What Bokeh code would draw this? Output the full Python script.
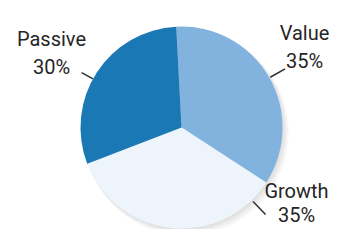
import math
from bokeh.plotting import figure
from bokeh.models import Range1d, ColumnDataSource
from bokeh.core.properties import value
from bokeh.embed import file_html
from bokeh.resources import INLINE

# ---- data ----
categories = ["Value", "Growth", "Passive"]
shares = [35, 35, 30]
colors = ["#82b3df", "#edf4fc", "#1a78b4"]

# ---- layout constants (picture pixel space, y measured from top) ----
W, H = 330, 229
cx, cy_px, R = 181, 127, 101
cy = H - cy_px
rotation_deg = 3  # first slice starts slightly left of 12 o'clock
FONT = "Roboto"

# label anchor: (centre x, first baseline Y), leader (angle deg, r0, r1)
label_pos = {"Value": (304, 32), "Growth": (296, 190), "Passive": (51, 38)}
label_gap = {"Value": 28, "Growth": 24, "Passive": 28}
leader = {"Value": (29.5, 102, 119), "Growth": (-46.0, 103, 121), "Passive": (151.2, 101, 114)}

total = float(sum(shares))
starts, ends = [], []
cum = 0.0
for s in shares:
    a0 = math.radians(90 + rotation_deg) - 2 * math.pi * cum / total
    cum += s
    a1 = math.radians(90 + rotation_deg) - 2 * math.pi * cum / total
    starts.append(a0)
    ends.append(a1)

src = ColumnDataSource(dict(cat=categories, share=shares, color=colors, start=starts, end=ends))

p = figure(width=W, height=H, output_backend="svg", toolbar_location=None,
           x_range=Range1d(0, W), y_range=Range1d(0, H),
           min_border=0, outline_line_color=None)
p.axis.visible = False
p.grid.visible = False
p.background_fill_color = "white"
p.border_fill_color = "white"

# soft shadow to the lower right
for k in range(1, 9):
    p.circle(x=cx + 0.6 * k, y=cy - 0.7 * k, radius=R + 0.2 * k,
             fill_color="#7a7a7a", fill_alpha=0.03, line_color=None)

p.wedge(x=cx, y=cy, radius=R, start_angle="start", end_angle="end",
        direction="clock", fill_color="color", line_color=None, source=src)

# leader lines
x0s, y0s, x1s, y1s = [], [], [], []
for c in categories:
    ang, r0, r1 = leader[c]
    a = math.radians(ang)
    x0s.append(cx + r0 * math.cos(a)); y0s.append(cy + r0 * math.sin(a))
    x1s.append(cx + r1 * math.cos(a)); y1s.append(cy + r1 * math.sin(a))
p.segment(x0=x0s, y0=y0s, x1=x1s, y1=y1s, line_color="#2e2e2e", line_width=1.5)

# labels
tx, ty, tt = [], [], []
for c, s in zip(categories, shares):
    lx, ly = label_pos[c]
    tx += [lx, lx]
    ty += [H - ly, H - ly - label_gap[c]]
    tt += [c, f"{s}%"]
p.text(x=tx, y=ty, text=tt, text_font=value(FONT), text_font_size="20px",
       text_align="center", text_baseline="alphabetic", text_color="#262626")

open("out.html", "w").write(file_html(p, INLINE))
